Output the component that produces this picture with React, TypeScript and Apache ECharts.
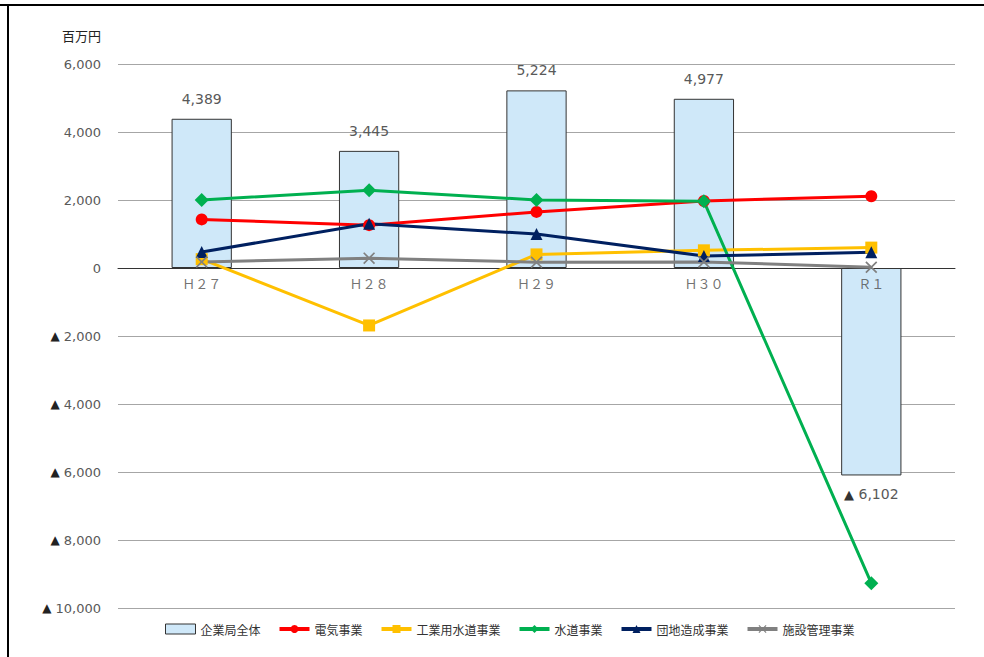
import React, { useEffect, useRef } from "react";
import * as echarts from "echarts";

const categories = ["Ｈ２７", "Ｈ２８", "Ｈ２９", "Ｈ３０", "Ｒ１"];
const totalValues = [4389, 3445, 5224, 4977, -6102];
const electricValues = [1430, 1260, 1650, 1970, 2110];
const industrialWaterValues = [260, -1690, 400, 520, 600];
const waterValues = [2000, 2290, 2000, 1960, -9270];
const estateValues = [470, 1300, 1000, 350, 460];
const facilityValues = [180, 290, 170, 180, 20];
const yTicks = { min: -10000, max: 6000, interval: 2000 };

const fmtRich = (v: number) => {
  const s = Math.abs(v).toLocaleString("en-US");
  return v < 0 ? "{t|▲} " + s : s;
};

const FONT = "'Noto Sans CJK JP', 'Noto Sans', sans-serif";
const NUMFONT = "'DejaVu Sans', 'Noto Sans CJK JP', sans-serif";
const CROSS = "path://M1,0L5,4L9,0L10,1L6,5L10,9L9,10L5,6L1,10L0,9L4,5L0,1Z";

export default function App() {
  const ref = useRef<HTMLDivElement>(null);
  useEffect(() => {
    if (!ref.current) return;
    const chart = echarts.init(ref.current, null, { renderer: "svg" });
    const lineSeries = (name: string, data: number[], color: string, symbol: string, size: number) => ({
      name,
      type: "line",
      data,
      symbol,
      symbolSize: size,
      lineStyle: { color, width: 3 },
      itemStyle: { color },
      z: 3,
    });
    const triRich = { t: { color: "#222", fontSize: 12, fontFamily: NUMFONT } };
    chart.setOption({
      animation: false,
      textStyle: { fontFamily: FONT },
      grid: { left: 118, right: 29, top: 64, bottom: 49 },
      graphic: [
        { type: "line", shape: { x1: 0, y1: 5, x2: 984, y2: 5 }, style: { stroke: "#000", lineWidth: 2 } },
        { type: "line", shape: { x1: 8, y1: 5, x2: 8, y2: 657 }, style: { stroke: "#000", lineWidth: 2 } },
        { type: "text", left: 62, top: 29, style: { text: "百万円", fontSize: 13, fill: "#222", fontFamily: FONT } },
      ],
      legend: {
        bottom: 17,
        left: 160,
        itemGap: 17,
        itemWidth: 30,
        itemHeight: 10,
        lineStyle: { width: 4 },
        textStyle: { fontSize: 12, color: "#333", fontFamily: FONT },
        data: [
          { name: "企業局全体", icon: "rect", itemStyle: { color: "#cfe8f9", borderColor: "#333", borderWidth: 1 } },
          "電気事業",
          "工業用水道事業",
          "水道事業",
          "団地造成事業",
          "施設管理事業",
        ],
      },
      xAxis: {
        type: "category",
        data: categories,
        axisLine: { onZero: true, lineStyle: { color: "#333", width: 1 } },
        axisTick: { show: false },
        axisLabel: { show: false },
      },
      yAxis: {
        type: "value",
        min: yTicks.min,
        max: yTicks.max,
        interval: yTicks.interval,
        axisLine: { show: false },
        axisTick: { show: false },
        axisLabel: {
          color: "#595959",
          fontSize: 13,
          margin: 17,
          formatter: fmtRich,
          fontFamily: NUMFONT,
          rich: triRich,
        },
        splitLine: { lineStyle: { color: "#a6a6a6", width: 1 } },
      },
      series: [
        {
          name: "企業局全体",
          type: "bar",
          barWidth: "36%",
          data: totalValues.map((v) => ({
            value: v,
            label: { position: v < 0 ? "bottom" : "top", distance: v < 0 ? 12 : 13 },
          })),
          itemStyle: { color: "#cfe8f9", borderColor: "#333", borderWidth: 1 },
          label: {
            show: true,
            formatter: (p: any) => fmtRich(p.value),
            color: "#595959",
            fontSize: 14,
            fontFamily: NUMFONT,
            rich: { t: { color: "#333", fontSize: 13, fontFamily: NUMFONT } },
          },
          z: 2,
        },
        lineSeries("電気事業", electricValues, "#ff0000", "circle", 12),
        lineSeries("工業用水道事業", industrialWaterValues, "#ffc000", "rect", 12),
        lineSeries("水道事業", waterValues, "#00b050", "diamond", 14),
        lineSeries("団地造成事業", estateValues, "#002060", "triangle", 12),
        lineSeries("施設管理事業", facilityValues, "#808080", CROSS, 12),
        {
          name: "categoryLabels",
          type: "scatter",
          data: categories.map((c) => [c, 0]),
          symbolSize: 0,
          silent: true,
          tooltip: { show: false },
          label: {
            show: true,
            position: "bottom",
            distance: 9,
            formatter: (p: any) => p.value[0],
            color: "#4d4d4d",
            fontSize: 13,
            fontFamily: FONT,
          },
          z: 4,
        },
      ],
    });
    return () => chart.dispose();
  }, []);
  return (
    <div
      ref={ref}
      style={{ position: "fixed", left: 0, top: 0, width: 984, height: 657, background: "#fff" }}
    />
  );
}
